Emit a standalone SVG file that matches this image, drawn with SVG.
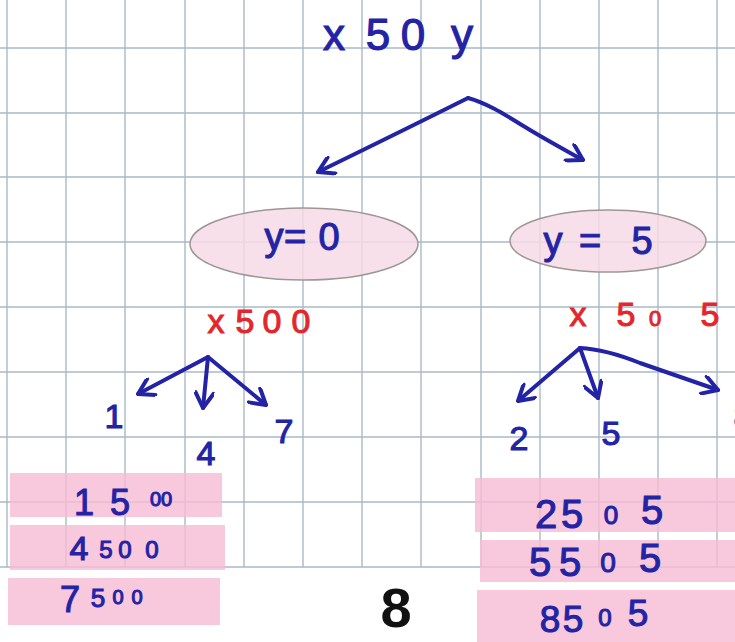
<svg xmlns="http://www.w3.org/2000/svg" width="735" height="642" viewBox="0 0 735 642">
<style>
.grid line{stroke:#a9b9c6;stroke-width:1.4}
.hw{font-family:"Liberation Sans",Arial,sans-serif;fill:#2323a6;stroke:#2323a6;stroke-width:1.1;text-anchor:middle}
.red{font-family:"Liberation Sans",Arial,sans-serif;fill:#e3262b;stroke:#e3262b;stroke-width:1;text-anchor:middle}
.box{fill:#f7bcd4;fill-opacity:0.82}
.ell{fill:#f6dbe5;fill-opacity:0.85;stroke:#9e9696;stroke-width:1.5}
.con{fill:none;stroke:#2323a6;stroke-width:4;stroke-linecap:round;stroke-linejoin:round}
</style>
<defs>
<marker id="ah" viewBox="0 0 20 20" refX="18" refY="10" markerWidth="20" markerHeight="20" markerUnits="userSpaceOnUse" orient="auto">
<path d="M3,1 L18,10 L3,19" fill="none" stroke="#2323a6" stroke-width="4" stroke-linecap="round" stroke-linejoin="round"/>
</marker>
</defs>
<rect width="735" height="642" fill="#ffffff"/>
<g class="grid" id="grid">
<line x1="7" y1="0" x2="7" y2="567"/><line x1="66" y1="0" x2="66" y2="567"/><line x1="125" y1="0" x2="125" y2="567"/><line x1="185" y1="0" x2="185" y2="567"/><line x1="244" y1="0" x2="244" y2="567"/><line x1="303" y1="0" x2="303" y2="567"/><line x1="362" y1="0" x2="362" y2="567"/><line x1="421" y1="0" x2="421" y2="567"/><line x1="481" y1="0" x2="481" y2="567"/><line x1="540" y1="0" x2="540" y2="567"/><line x1="599" y1="0" x2="599" y2="567"/><line x1="658" y1="0" x2="658" y2="567"/><line x1="717" y1="0" x2="717" y2="567"/>
<line x1="0" y1="48" x2="735" y2="48"/><line x1="0" y1="113" x2="735" y2="113"/><line x1="0" y1="177" x2="735" y2="177"/><line x1="0" y1="242" x2="735" y2="242"/><line x1="0" y1="307" x2="735" y2="307"/><line x1="0" y1="372" x2="735" y2="372"/><line x1="0" y1="437" x2="735" y2="437"/><line x1="0" y1="502" x2="735" y2="502"/><line x1="0" y1="567" x2="735" y2="567"/>
</g>
<g id="connectors">
<path class="con" d="M468,98 Q400,132 318,172" marker-end="url(#ah)"/>
<path class="con" d="M468,98 C490,104 510,118 530,130 S565,150 583,160" marker-end="url(#ah)"/>
<path class="con" d="M208,357 L138,394" marker-end="url(#ah)"/>
<path class="con" d="M208,357 L203,408" marker-end="url(#ah)"/>
<path class="con" d="M208,357 L266,405" marker-end="url(#ah)"/>
<path class="con" d="M580,348 L518,401" marker-end="url(#ah)"/>
<path class="con" d="M580,348 L598,398" marker-end="url(#ah)"/>
<path class="con" d="M580,348 C600,349 620,355 640,363 L718,390" marker-end="url(#ah)"/>
</g>
<g id="root"><text class="hw" font-size="44" x="334 378 413 462" y="50">x50y</text></g>
<g id="y0"><ellipse class="ell" cx="304" cy="244" rx="114" ry="36"/><text class="hw" font-size="38" x="274 295 329" y="250">y=0</text></g>
<g id="y5"><ellipse class="ell" cx="608" cy="241" rx="98" ry="31"/><text class="hw" font-size="38" x="553 590 642" y="254">y=5</text></g>
<g id="x500"><text class="red" font-size="34" x="216 245 272 301" y="333">x500</text></g>
<g id="x505"><text class="red" font-size="34" y="326"><tspan x="578">x</tspan><tspan x="626">5</tspan><tspan x="655" font-size="22">0</tspan><tspan x="710">5</tspan></text></g>
<g id="d1"><text class="hw" font-size="34" x="114" y="428">1</text></g>
<g id="d4"><text class="hw" font-size="34" x="206" y="465">4</text></g>
<g id="d7"><text class="hw" font-size="34" x="284" y="443">7</text></g>
<g id="d2"><text class="hw" font-size="34" x="519" y="450">2</text></g>
<g id="d5"><text class="hw" font-size="34" x="611" y="445">5</text></g>
<g id="d8"><text class="hw" font-size="34" x="743" y="428">8</text></g>
<g id="r1500"><rect class="box" x="10" y="473" width="212" height="44"/><text class="hw" font-size="36" y="515"><tspan x="84">1</tspan><tspan x="120">5</tspan><tspan x="161" y="506" font-size="20">00</tspan></text></g>
<g id="r4500"><rect class="box" x="10" y="525" width="215" height="45"/><text class="hw" font-size="34" y="560"><tspan x="79">4</tspan><tspan x="106" y="558" font-size="24">5</tspan><tspan x="125" y="558" font-size="24">0</tspan><tspan x="152" y="558" font-size="24">0</tspan></text></g>
<g id="r7500"><rect class="box" x="8" y="578" width="212" height="47"/><text class="hw" font-size="36" y="612"><tspan x="70">7</tspan><tspan x="98" y="607" font-size="26">5</tspan><tspan x="118" y="604" font-size="20">0</tspan><tspan x="137" y="604" font-size="20">0</tspan></text></g>
<g id="r2505"><rect class="box" x="475" y="478" width="260" height="54"/><text class="hw" font-size="40" y="528"><tspan x="546">2</tspan><tspan x="572">5</tspan><tspan x="611" y="524" font-size="26">0</tspan><tspan x="652">5</tspan></text></g>
<g id="r5505"><rect class="box" x="480" y="540" width="255" height="42"/><text class="hw" font-size="40" y="576"><tspan x="540">5</tspan><tspan x="570">5</tspan><tspan x="608" y="572" font-size="28">0</tspan><tspan x="650">5</tspan></text></g>
<g id="r8505"><rect class="box" x="477" y="590" width="258" height="52"/><text class="hw" font-size="37" y="632"><tspan x="550">8</tspan><tspan x="573">5</tspan><tspan x="605" y="626" font-size="24">0</tspan><tspan x="638">5</tspan></text></g>
<g id="page"><text x="396" y="627" font-family="Liberation Sans,Arial,sans-serif" font-size="56" font-weight="bold" fill="#111111" text-anchor="middle">8</text></g>
</svg>
